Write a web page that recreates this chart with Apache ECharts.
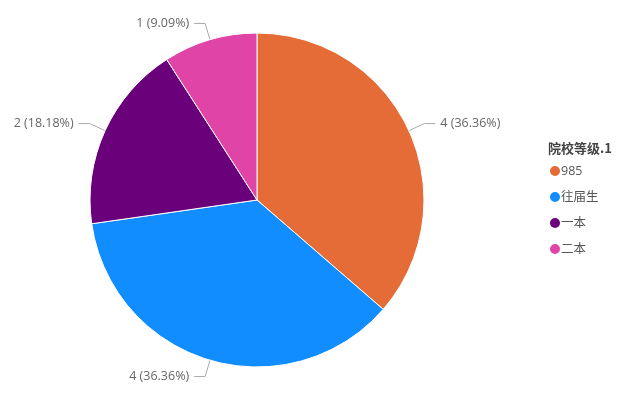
<!DOCTYPE html>
<html><head><meta charset="utf-8">
<script src="https://cdn.jsdelivr.net/npm/echarts@6/dist/echarts.min.js"></script>
<style>html,body{margin:0;padding:0;background:#fff}#c{width:619px;height:404px}</style>
</head><body><div id="c"></div>
<script>
const categories = ['985', '往届生', '一本', '二本'];
const values = [4, 4, 2, 1];
const colors = ['#E66C37', '#118DFF', '#6B007B', '#E044A7'];
const legendTitle = '院校等级.1';

const total = values.reduce((a, b) => a + b, 0);
const chart = echarts.init(document.getElementById('c'));
chart.setOption({
  animation: false,
  color: colors,
  title: {
    text: legendTitle, left: 543, top: 136.5,
    textStyle: {fontSize: 13, fontWeight: 'bold', color: '#444', fontFamily: 'Noto Sans CJK SC'}
  },
  legend: {
    orient: 'vertical', left: 543, top: 159,
    icon: 'circle', itemWidth: 12, itemHeight: 12, itemGap: 12,
    textStyle: {fontSize: 12.5, color: '#555', fontFamily: "'Open Sans', 'Noto Sans CJK SC'", padding: [0,0,0,-5]},
    data: categories
  },
  series: [{
    type: 'pie',
    center: [257, 200],
    radius: 167,
    startAngle: 90,
    clockwise: true,
    itemStyle: {borderColor: '#fff', borderWidth: 1},
    label: {
      formatter: p => p.value + ' (' + (p.value / total * 100).toFixed(2) + '%)',
      color: '#666', fontSize: 12.5, fontFamily: 'Open Sans'
    },
    labelLine: {length: 17, length2: 11, lineStyle: {color: '#aaa', width: 1}},
    data: categories.map((n, i) => ({name: n, value: values[i]}))
  }]
});
</script></body></html>
